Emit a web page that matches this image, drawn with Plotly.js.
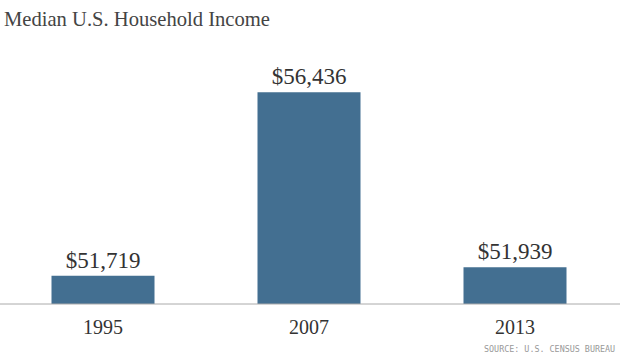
<!DOCTYPE html>
<html>
<head>
<meta charset="utf-8">
<script src="https://cdn.plot.ly/plotly-3.0.1.min.js"></script>
<style>html,body{margin:0;padding:0;background:#fff;}#chart{width:620px;height:355px;}</style>
</head>
<body>
<div id="chart"></div>
<script>
var years = ['1995', '2007', '2013'];
var incomes = [51719, 56436, 51939];
var labels = ['$51,719', '$56,436', '$51,939'];
var titleText = 'Median U.S. Household Income';
var sourceText = 'SOURCE: U.S. CENSUS BUREAU';

var W = 620, H = 355, T = 40, B = 51, L = 0, R = 2;
var plotH = H - T - B;
function py(pix) { return (H - B - pix) / plotH; }

var trace = {
  type: 'bar',
  x: years,
  y: incomes,
  text: labels,
  textposition: 'outside',
  cliponaxis: false,
  textfont: {family: '"Liberation Serif", "DejaVu Serif", serif', size: 23, color: '#333'},
  marker: {color: '#436f91'},
  hoverinfo: 'none'
};

var layout = {
  width: W, height: H,
  margin: {l: L, r: R, t: T, b: B, pad: 0},
  paper_bgcolor: '#fff', plot_bgcolor: '#fff',
  showlegend: false,
  bargap: 0.5,
  xaxis: {
    type: 'category',
    showgrid: false, zeroline: false, showline: false,
    ticks: '', ticklen: 0,
    ticklabelstandoff: 9,
    tickfont: {family: '"Liberation Serif", "DejaVu Serif", serif', size: 20, color: '#333'}
  },
  yaxis: {
    range: [50991, 57781],
    showgrid: false, zeroline: false, showline: false,
    showticklabels: false, ticks: ''
  },
  shapes: [{
    type: 'line', xref: 'paper', yref: 'paper',
    x0: 0, x1: W / (W - L - R), y0: 0, y1: 0,
    line: {color: '#aaa', width: 1}
  }],
  annotations: [
    {text: titleText, xref: 'paper', yref: 'paper', x: 2 / (W - L - R), y: py(19),
     xanchor: 'left', yanchor: 'middle', showarrow: false,
     font: {family: '"Liberation Serif", "DejaVu Serif", serif', size: 20.6, color: '#444'}},
    {text: sourceText, xref: 'paper', yref: 'paper', x: 617 / (W - L - R), y: py(349),
     xanchor: 'right', yanchor: 'middle', showarrow: false,
     font: {family: '"DejaVu Sans Mono", monospace', size: 8.4, color: '#999'}}
  ]
};

Plotly.newPlot('chart', [trace], layout, {displayModeBar: false, staticPlot: true});
</script>
</body>
</html>
